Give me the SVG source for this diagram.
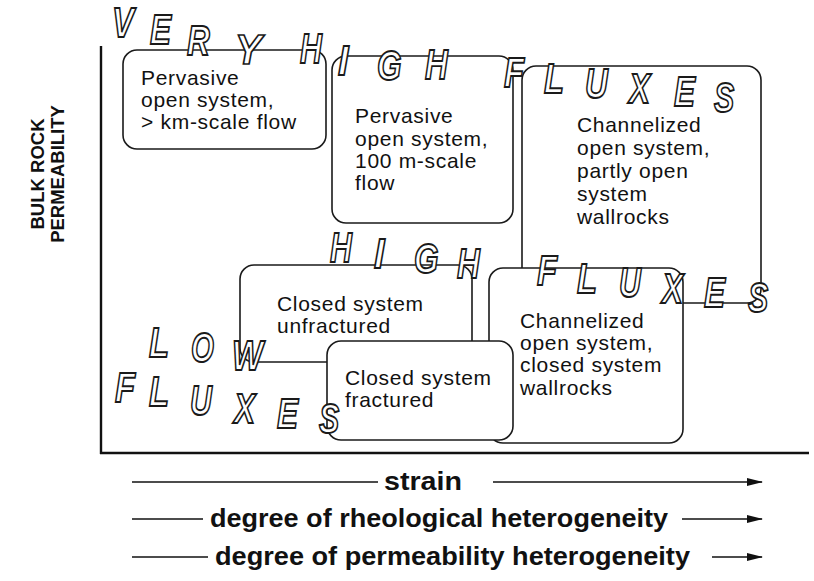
<svg xmlns="http://www.w3.org/2000/svg" width="814" height="581" viewBox="0 0 814 581">
<style>
.bg{fill:#fff}
.box{fill:#fff;stroke:#1a1a1a;stroke-width:1.6}
.t{font-family:"Liberation Sans",Arial,sans-serif;font-size:21px;fill:#111;letter-spacing:0.7px}
.ax{stroke:#111;stroke-width:2.4;fill:none}
.ar{stroke:#111;stroke-width:1.6;fill:none}
.b{font-family:"Liberation Sans",Arial,sans-serif;font-weight:bold;font-size:25px;fill:#111}
.yl{font-family:"Liberation Sans",Arial,sans-serif;font-weight:bold;font-size:18.5px;fill:#111}
.ol{font-family:"Liberation Sans",Arial,sans-serif;font-weight:bold;font-style:italic;font-size:42px;fill:#fff;stroke:#1a1a1a;stroke-width:1.7;vector-effect:non-scaling-stroke}
</style>
<defs>
<marker id="ah" markerWidth="16" markerHeight="8" refX="15" refY="4" orient="auto" markerUnits="userSpaceOnUse">
<path d="M0,0 L16,4 L0,8 Z" fill="#111"/>
</marker>
</defs>
<rect class="bg" x="0" y="0" width="814" height="581"/>

<g id="axes">
<line class="ax" x1="101" y1="46" x2="101" y2="454"/>
<line class="ax" x1="100" y1="453" x2="809" y2="453"/>
</g>

<g id="axis-label">
<text class="yl" transform="translate(44,174) rotate(-90)" text-anchor="middle">BULK ROCK</text>
<text class="yl" transform="translate(64,174) rotate(-90)" text-anchor="middle">PERMEABILITY</text>
</g>

<g id="node-channelized-partly">
<rect class="box" x="522" y="66" width="239" height="237" rx="14"/>
<text class="t" x="577" y="132">Channelized</text>
<text class="t" x="577" y="155">open system,</text>
<text class="t" x="577" y="178">partly open</text>
<text class="t" x="577" y="201">system</text>
<text class="t" x="577" y="224">wallrocks</text>
</g>

<g id="node-channelized-closed">
<rect class="box" x="489" y="268" width="194" height="175" rx="14"/>
<text class="t" x="520" y="328">Channelized</text>
<text class="t" x="520" y="350">open system,</text>
<text class="t" x="520" y="372">closed system</text>
<text class="t" x="520" y="395">wallrocks</text>
</g>

<g id="node-closed-unfractured">
<rect class="box" x="240" y="265" width="232" height="97" rx="14"/>
<text class="t" x="277" y="311">Closed system</text>
<text class="t" x="277" y="333">unfractured</text>
</g>

<g id="node-closed-fractured">
<rect class="box" x="327" y="341" width="186" height="99" rx="14"/>
<text class="t" x="345" y="385">Closed system</text>
<text class="t" x="345" y="407">fractured</text>
</g>

<g id="node-pervasive-km">
<rect class="box" x="123" y="50" width="203" height="99" rx="14"/>
<text class="t" x="141" y="85">Pervasive</text>
<text class="t" x="141" y="107">open system,</text>
<text class="t" x="141" y="129">&gt; km-scale flow</text>
</g>

<g id="node-pervasive-100m">
<rect class="box" x="332" y="56" width="181" height="167" rx="14"/>
<text class="t" x="355" y="123">Pervasive</text>
<text class="t" x="355" y="146">open system,</text>
<text class="t" x="355" y="168">100 m-scale</text>
<text class="t" x="355" y="190">flow</text>
</g>

<g id="label-very-high-fluxes">
<text class="ol" transform="translate(112,37) scale(0.78,1)">V</text>
<text class="ol" transform="translate(150,44) scale(0.75,1)">E</text>
<text class="ol" transform="translate(187,55) scale(0.75,1)">R</text>
<text class="ol" transform="translate(235,64) scale(0.95,1)">Y</text>
<text class="ol" transform="translate(300,63) scale(0.72,1)">H</text>
<text class="ol" transform="translate(338,75) scale(0.9,1)">I</text>
<text class="ol" transform="translate(377,80) scale(0.75,1)">G</text>
<text class="ol" transform="translate(425,79) scale(0.75,1)">H</text>
<text class="ol" transform="translate(504,87) scale(0.78,1)">F</text>
<text class="ol" transform="translate(544,93) scale(0.78,1)">L</text>
<text class="ol" transform="translate(585,98) scale(0.75,1)">U</text>
<text class="ol" transform="translate(629,103) scale(0.75,1)">X</text>
<text class="ol" transform="translate(674,106) scale(0.75,1)">E</text>
<text class="ol" transform="translate(714,112) scale(0.72,1)">S</text>
</g>

<g id="label-high-fluxes">
<text class="ol" transform="translate(330,262) scale(0.72,1)">H</text>
<text class="ol" transform="translate(374,268) scale(0.9,1)">I</text>
<text class="ol" transform="translate(414,273) scale(0.75,1)">G</text>
<text class="ol" transform="translate(457,278) scale(0.75,1)">H</text>
<text class="ol" transform="translate(537,285) scale(0.78,1)">F</text>
<text class="ol" transform="translate(577,293) scale(0.78,1)">L</text>
<text class="ol" transform="translate(619,297) scale(0.72,1)">U</text>
<text class="ol" transform="translate(662,303) scale(0.75,1)">X</text>
<text class="ol" transform="translate(704,307) scale(0.75,1)">E</text>
<text class="ol" transform="translate(748,312) scale(0.72,1)">S</text>
</g>

<g id="label-low-fluxes">
<text class="ol" transform="translate(149,357) scale(0.78,1)">L</text>
<text class="ol" transform="translate(191,362) scale(0.7,1)">O</text>
<text class="ol" transform="translate(232,370) scale(0.78,1)">W</text>
<text class="ol" transform="translate(115,402) scale(0.78,1)">F</text>
<text class="ol" transform="translate(149,406) scale(0.78,1)">L</text>
<text class="ol" transform="translate(190,415) scale(0.72,1)">U</text>
<text class="ol" transform="translate(234,423) scale(0.75,1)">X</text>
<text class="ol" transform="translate(277,428) scale(0.75,1)">E</text>
<text class="ol" transform="translate(319,433) scale(0.72,1)">S</text>
</g>

<g id="connectors">
<line class="ar" x1="132" y1="482" x2="378" y2="482"/>
<line class="ar" x1="493" y1="482" x2="762" y2="482" marker-end="url(#ah)"/>
<line class="ar" x1="132" y1="519" x2="203" y2="519"/>
<line class="ar" x1="682" y1="519" x2="762" y2="519" marker-end="url(#ah)"/>
<line class="ar" x1="132" y1="557" x2="208" y2="557"/>
<line class="ar" x1="712" y1="557" x2="762" y2="557" marker-end="url(#ah)"/>
</g>

<g id="axis-titles">
<text class="b" x="384" y="490" textLength="78" lengthAdjust="spacingAndGlyphs">strain</text>
<text class="b" x="210" y="527" textLength="458" lengthAdjust="spacingAndGlyphs">degree of rheological heterogeneity</text>
<text class="b" x="215" y="565" textLength="475" lengthAdjust="spacingAndGlyphs">degree of permeability heterogeneity</text>
</g>
</svg>
